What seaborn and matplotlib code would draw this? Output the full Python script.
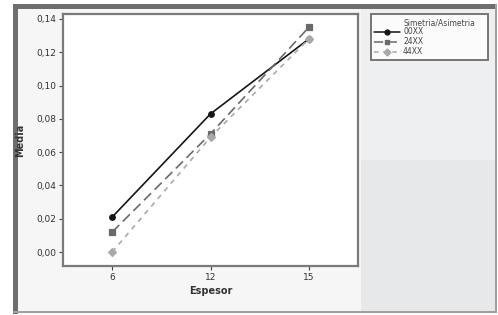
import matplotlib
matplotlib.use("Agg")
import matplotlib.pyplot as plt
import seaborn as sns
import pandas as pd
from matplotlib.patches import Rectangle
from matplotlib.lines import Line2D

espesor = ["6", "12", "15"]
grupos = ["00XX", "24XX", "44XX"]
media_00 = [0.021, 0.083, 0.128]
media_24 = [0.012, 0.071, 0.135]
media_44 = [0.000, 0.069, 0.128]
yticks = [0.00, 0.02, 0.04, 0.06, 0.08, 0.10, 0.12, 0.14]

df = pd.DataFrame({
    "Espesor": espesor * 3,
    "Media": media_00 + media_24 + media_44,
    "Grupo": [g for g in grupos for _ in espesor],
})

sns.set_style("white")
plt.rcParams["font.family"] = ["DejaVu Sans"]

W, H = 498, 315
fig = plt.figure(figsize=(W / 100, H / 100), dpi=100)
fig.patch.set_facecolor("white")

def frect(x0, y0, x1, y1, color, z=-10):
    fig.patches.append(Rectangle((x0 / W, 1 - y1 / H), (x1 - x0) / W, (y1 - y0) / H,
                                 transform=fig.transFigure, facecolor=color,
                                 edgecolor="none", zorder=z))

# backgrounds
frect(13, 4, 497, 314, "#f6f6f6")
frect(361, 9, 496, 160, "#eeeff0")
frect(361, 160, 496, 312, "#e7e8ea")
# dark frame
frect(13, 4, 497, 9, "#6e6e6e")
frect(13, 4, 18, 314, "#6e6e6e")
frect(13, 311, 497, 313, "#a0a0a0")
frect(495, 4, 497, 313, "#a0a0a0")

ax = fig.add_axes([63 / W, 1 - 266 / H, (358 - 63) / W, (266 - 14) / H])
ax.set_zorder(5)
ax.set_facecolor("white")

colors = ["#161616", "#6a6a6a", "#a9a9a9"]
markers = ["o", "s", "D"]
linestyles = ["-", (0, (6, 3)), (0, (3, 3))]
sns.pointplot(data=df, x="Espesor", y="Media", hue="Grupo", order=espesor,
              hue_order=grupos, palette=colors, markers=markers,
              linestyles=linestyles, errorbar=None, ax=ax,
              markersize=4, linewidth=1.2, legend=False)

ax.set_xlim(-0.5, 2.5)
ax.set_ylim(-0.0084, 0.143)
ax.set_yticks(yticks)
ax.set_yticklabels([f"{v:.2f}".replace(".", ",") for v in yticks])
ax.tick_params(axis="both", labelsize=6.5, colors="#444444", length=3,
               width=0.8, direction="out", left=True, bottom=True, pad=2)
for lab in ax.get_xticklabels() + ax.get_yticklabels():
    lab.set_color("#333333")
for s in ax.spines.values():
    s.set_color("#7a7a7a")
    s.set_linewidth(1.6)
ax.set_xlabel("Espesor", fontsize=7, fontweight="bold", color="#333333", labelpad=3)
ax.set_ylabel("Media", fontsize=7, fontweight="bold", color="#333333", labelpad=4)
ax.yaxis.set_label_coords(-0.127, 0.5)

handles = [Line2D([0], [0], color=c, marker=m, linestyle=ls, markersize=3.5, linewidth=1.1)
           for c, m, ls in zip(colors, markers, linestyles)]
leg = fig.legend(handles, grupos, title=" ", loc="upper left",
                 bbox_to_anchor=(371 / W, 1 - 71 / H, (488 - 371) / W, 57 / H),
                 mode="expand", fontsize=5.5,
                 title_fontsize=5.5, frameon=True, fancybox=False,
                 handlelength=3.4, handletextpad=0.4, labelspacing=0.15,
                 borderpad=0.4, borderaxespad=0)
leg.set_zorder(6)
leg.get_frame().set_edgecolor("#555555")
leg.get_frame().set_linewidth(1.4)
leg.get_frame().set_facecolor("white")
for t in leg.get_texts():
    t.set_color("#444444")
ttl = fig.text(403 / W, 1 - 23 / H, "Simetria/Asimetria", fontsize=5.5,
               color="#444444", ha="left", va="center")
ttl.set_zorder(7)

fig.savefig("out.png", dpi=100)
